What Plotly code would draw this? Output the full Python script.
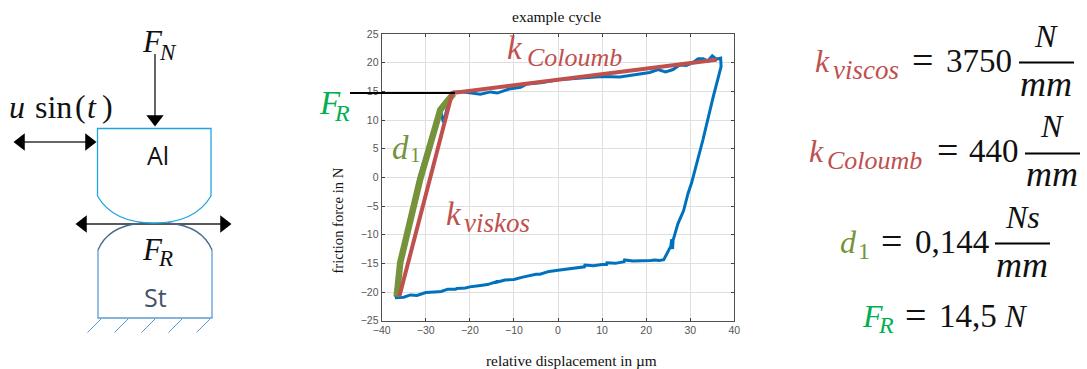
import plotly.graph_objects as go

# ---- data ----
x_ticks = [-40, -30, -20, -10, 0, 10, 20, 30, 40]
y_ticks = [-25, -20, -15, -10, -5, 0, 5, 10, 15, 20, 25]

loop_x = [-37, -36, -35, -33.5, -32, -30, -28.5, -28, -26.5, -25, -23.2, -23, -21, -20, -18, -16, -14, -14, -12, -10,
          -8, -6, -5, -4.1, -2, 0, 2.5, 5, 6, 6.1, 8, 10, 11, 11.1, 13, 15, 15.1, 17, 20, 21, 22, 23, 24, 24.9, 25.6,
          25.8, 26, 26.1, 27.2, 28.5, 29.5, 30.3, 32.9, 35.2, 36.3, 37, 36.9, 35.9, 35, 34, 32.9, 31.8, 30.6, 29.1,
          27.6, 26.1, 24.4, 22.7, 20.8, 17, 14, 10, 4.9, 0, -3.9, -7, -8.5, -11.1, -13.8, -15.3, -17.6, -19.8, -21.4,
          -23.7, -25, -26, -26.7, -31.3, -35.8, -36.6, -37]
loop_y = [-21, -21, -20.9, -20.5, -20.6, -20.1, -20.1, -20, -19.9, -19.5, -19.5, -19.4, -19.3, -19.1, -18.9, -18.7, -18.2, -18.3, -17.9, -17.8,
          -17.4, -17.1, -16.9, -16.9, -16.4, -16.2, -15.9, -15.6, -15.6, -15.3, -15.4, -15.2, -15.2, -14.9, -15, -14.7, -14.4, -14.6, -14.6, -14.5, -14.4, -14.5, -14.35, -13.1, -12,
          -10.8, -12.5, -11, -8.1, -5.8, -2.8, -1, 6.6, 14, 17, 19.3, 20.8, 20.6, 21.2, 20.3, 20.7, 20.7, 20, 19.5,
          19.6, 18.8, 18.4, 18.8, 18.3, 17.8, 17.5, 17.6, 17.3, 17, 16.5, 16.3, 15.7, 15.4, 14.7, 14.9, 14.5, 14.7, 14.9,
          14.9, 12.5, 9.6, 11.8, 0.5, -14.9, -20.8, -21]

green_x = [-23.7, -26.7, -31.3, -35.8, -36.6]
green_y = [14.6, 11.8, -0.4, -14.9, -20.8]

red_x = [36, -24, -36]
red_y = [20.5, 14.7, -20.8]

# axis text
chart_title = "example cycle"
x_title = "relative displacement in µm"
y_title = "friction force in N"

W, H = 1087, 369
L, R, T, B = 381.7, 734.3, 34, 320.7
SERIF = "Liberation Serif"
SANS = "Open Sans"
RED = "#C0504D"
GREEN = "#76933C"
FR = "#00B050"
BLUE = "#0072BD"

fig = go.Figure()
fig.add_trace(go.Scatter(x=loop_x, y=loop_y, mode="lines", line=dict(color=BLUE, width=3), hoverinfo="skip"))
fig.add_trace(go.Scatter(x=green_x, y=green_y, mode="lines", line=dict(color=GREEN, width=6.5), hoverinfo="skip"))
fig.add_trace(go.Scatter(x=red_x, y=red_y, mode="lines", line=dict(color=RED, width=4), hoverinfo="skip"))

# ---- schematic, on a pixel-sized overlay axis ----
def ov(xs, ys, color, width):
    fig.add_trace(go.Scatter(x=xs, y=ys, mode="lines", xaxis="x2", yaxis="y2",
                             line=dict(color=color, width=width), hoverinfo="skip"))

def head(x, y, sym):
    fig.add_trace(go.Scatter(x=[x], y=[y], mode="markers", xaxis="x2", yaxis="y2",
                             marker=dict(symbol=sym, size=15, color="#000000", line=dict(width=0)), hoverinfo="skip"))

shapes = []
def path(d, color, width=1.3):
    shapes.append(dict(type="path", path=d, xref="x2", yref="y2", line=dict(color=color, width=width)))

AL = "#1FA5DE"
ST = "#5B9BD5"
path("M 97.5 196 L 97.5 128.5 L 211 128.5 L 211 196 Q 195 223 154 223 Q 113 223 97.5 196", AL)
path("M 98 250 L 98 318 L 212 318 L 212 250", ST)
path("M 98 250 Q 108 226 142 223", "#44688F")
path("M 212 250 Q 202 226 168 223", "#44688F")
for hx in [101, 128, 155, 182, 210]:
    ov([hx, hx - 13.5], [319, 332.5], ST, 1)

ov([155, 155], [54, 120], "#333333", 1.5)
head(155, 119, "triangle-down")
ov([22, 90], [142, 142], "#333333", 1.5)
head(21, 142, "triangle-left")
head(89, 142, "triangle-right")
ov([82, 226], [224, 224], "#222222", 1.5)
head(83, 224, "triangle-left")
head(224, 224, "triangle-right")
ov([350, 455], [93, 93], "#000000", 2)

# equation fraction bars
ov([1019, 1074], [62.5, 62.5], "#000000", 2)
ov([1025, 1080], [153.5, 153.5], "#000000", 2)
ov([995, 1050], [243.5, 243.5], "#000000", 2)

# ---- text ----
ann = []
def t(x, y, s, size=31, color="#111111", anchor="left", family=SERIF, angle=0):
    ann.append(dict(x=x, y=y, xref="x2", yref="y2", text=s, showarrow=False, xanchor=anchor, yanchor="middle",
                    font=dict(family=family, size=size, color=color), textangle=angle, borderpad=0))

def sym(x, y, base, sub, color="#111111", size=31, sub_size=23, sx=None, sdy=9):
    t(x, y, f"<i>{base}</i>", size, color)
    t(sx, y + sdy, sub, sub_size, color)

t(556, 16, chart_title, 15.5, "#111111", "center")
t(571, 360, x_title, 15.3, "#111111", "center")
t(337, 220.5, y_title, 14.6, "#111111", "center", angle=-90)

sym(141, 41, "F", "<i>N</i>", sx=158, sdy=11, size=31, sub_size=23)
t(8, 107, "<i>u</i>", 32)
t(34, 107, "sin", 32)
t(74, 106, "(", 32)
t(86, 107, "<i>t</i>", 32)
t(101, 106, ")", 32)
t(158, 155, "Al", 25, "#111111", "center", SANS)
sym(141, 249, "F", "<i>R</i>", sx=157, sdy=9, size=31, sub_size=23)
t(155, 297, "St", 25, "#44546A", "center", SANS)

sym(506, 48, "k", "<i>Coloumb</i>", RED, 33, 26, sx=526, sdy=9)
sym(445, 214, "k", "<i>viskos</i>", RED, 33, 27, sx=463, sdy=9)
sym(391, 148, "d", "1", GREEN, 33, 21, sx=409, sdy=7)
sym(318, 103, "F", "<i>R</i>", FR, 33, 24, sx=333, sdy=10)

def eq(x, y, base, sub, color, sx, eqx, num, numx, u=None, ux=None, sub_size=26):
    sym(x, y, base, sub, color, 32, sub_size, sx=sx)
    t(eqx, y - 1, "=", 38)
    t(numx, y, num, 33)
    if u:
        t(ux, y - 25, f"<i>{u}</i>", 32, anchor="center")
        t(ux, y + 23, "<i>mm</i>", 36, anchor="center")

eq(814, 61, "k", "<i>viscos</i>", RED, 832, 911, "3750", 945, "N", 1046, sub_size=27)
eq(808, 151, "k", "<i>Coloumb</i>", RED, 826, 936, "440", 968, "N", 1052)
eq(839, 242, "d", "1", GREEN, 857, 880, "0,144", 914, "Ns", 1022, sub_size=24)
eq(861, 316, "F", "<i>R</i>", FR, 877, 904, "14,5", 938, sub_size=24)
t(1003, 316, "<i>N</i>", 31)

fig.update_layout(
    width=W, height=H, margin=dict(l=0, r=0, t=0, b=0), paper_bgcolor="white", plot_bgcolor="rgba(0,0,0,0)",
    showlegend=False, shapes=shapes, annotations=ann,
    xaxis=dict(domain=[L / W, R / W], range=[-40, 40], tickvals=x_ticks, ticks="inside", ticklen=3, tickcolor="#404040",
               showline=True, mirror="ticks", linecolor="#505050", linewidth=1.2, gridcolor="#DFDFDF", gridwidth=1, zeroline=False,
               automargin=False, tickfont=dict(family="Liberation Sans", size=10.5, color="#555555")),
    yaxis=dict(domain=[1 - B / H, 1 - T / H], range=[-25, 25], tickvals=y_ticks, ticks="inside", ticklen=3, tickcolor="#404040",
               showline=True, mirror="ticks", linecolor="#505050", linewidth=1.2, gridcolor="#DFDFDF", gridwidth=1, zeroline=False,
               automargin=False, tickfont=dict(family="Liberation Sans", size=10.5, color="#555555")),
    xaxis2=dict(domain=[0, 1], range=[0, W], visible=False, anchor="y2", automargin=False),
    yaxis2=dict(domain=[0, 1], range=[H, 0], visible=False, anchor="x2", automargin=False),
)
fig.write_html("out.html", config={"displayModeBar": False},
               post_script="document.body.style.margin='0';document.body.style.overflow='hidden';")
